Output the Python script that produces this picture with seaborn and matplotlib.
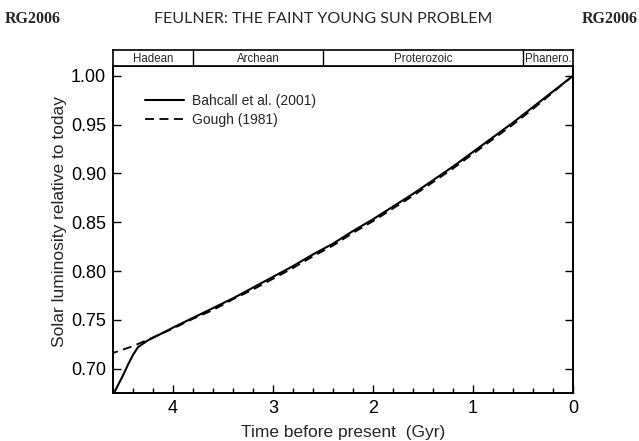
"""Faint young Sun: solar luminosity relative to today over Earth history."""

import matplotlib.pyplot as plt
import pandas as pd
import seaborn as sns
from matplotlib.ticker import FormatStrFormatter, MultipleLocator


# values
GOUGH_TIME = [0.0, 0.2, 0.4, 0.6, 0.8, 1.0, 1.2, 1.4, 1.6, 1.8, 2.0, 2.2,
              2.4, 2.6, 2.8, 3.0, 3.2, 3.4, 3.6, 3.8, 4.0, 4.2, 4.4, 4.6]
GOUGH_LUM = [1.000, 0.983, 0.966, 0.950, 0.935, 0.920, 0.905, 0.891, 0.877,
             0.864, 0.851, 0.839, 0.826, 0.815, 0.803, 0.792, 0.781, 0.771,
             0.760, 0.751, 0.741, 0.732, 0.723, 0.716]

BAHCALL_TIME = [0.0, 0.2, 0.4, 0.6, 0.8, 1.0, 1.2, 1.4, 1.6, 1.8, 2.0, 2.2,
                2.4, 2.6, 2.8, 3.0, 3.2, 3.4, 3.6, 3.8, 4.0, 4.2, 4.25, 4.3,
                4.35, 4.4, 4.45, 4.5, 4.55, 4.58]
BAHCALL_LUM = [1.000, 0.984, 0.968, 0.952, 0.937, 0.922, 0.907, 0.893, 0.879,
               0.866, 0.853, 0.841, 0.828, 0.817, 0.805, 0.794, 0.783, 0.772,
               0.762, 0.752, 0.742, 0.7315, 0.729, 0.7255, 0.722, 0.714,
               0.704, 0.693, 0.683, 0.677]

EON_NAMES = ["Hadean", "Archean", "Proterozoic", "Phanero."]
EON_BOUNDS = [4.6, 3.8, 2.5, 0.5, 0.0]

X_TICKS = [4, 3, 2, 1, 0]
Y_TICKS = [0.70, 0.75, 0.80, 0.85, 0.90, 0.95, 1.00]


def main() -> None:
    sns.set_style("ticks")
    plt.rcParams["font.family"] = ["Liberation Sans", "DejaVu Sans"]

    fig = plt.figure(figsize=(6.39, 4.41), dpi=100)
    ax = fig.add_axes([0.1768, 0.1088, 0.7199, 0.7415])

    bahcall_df = pd.DataFrame({"time": BAHCALL_TIME, "lum": BAHCALL_LUM})
    gough_df = pd.DataFrame({"time": GOUGH_TIME, "lum": GOUGH_LUM})

    sns.lineplot(data=bahcall_df, x="time", y="lum", ax=ax, color="black",
                 linewidth=1.5, estimator=None, label="Bahcall et al. (2001)")
    sns.lineplot(data=gough_df, x="time", y="lum", ax=ax, color="black",
                 linewidth=1.3, estimator=None, dashes=False,
                 linestyle=(0, (5, 3)), label="Gough (1981)")

    ax.set_xlim(4.6, 0)
    ax.set_ylim(0.675, 1.010)
    ax.set_xticks(X_TICKS)
    ax.set_yticks(Y_TICKS)
    ax.xaxis.set_minor_locator(MultipleLocator(0.2))
    ax.xaxis.set_major_formatter(FormatStrFormatter("%d"))
    ax.yaxis.set_major_formatter(FormatStrFormatter("%.2f"))
    ax.tick_params(which="both", direction="in", right=True, top=False,
                   width=1.0, colors="black")
    ax.tick_params(which="major", length=6, labelsize=13, pad=5)
    ax.tick_params(which="minor", length=3.5)
    for spine in ax.spines.values():
        spine.set_visible(True)
        spine.set_linewidth(1.4)
        spine.set_color("black")

    ax.set_xlabel("Time before present  (Gyr)", fontsize=12.5, labelpad=6)
    ax.set_ylabel("Solar luminosity relative to today", fontsize=12.5)
    ax.yaxis.set_label_coords(-0.10, 0.523)

    ax.legend(loc="upper left", bbox_to_anchor=(0.07, 0.915), frameon=False,
              fontsize=10, handlelength=2.8, handletextpad=0.6,
              labelspacing=0.35, borderpad=0, borderaxespad=0)

    band = fig.add_axes([0.1768, 0.8503, 0.7199, 0.0363])
    band.set_xlim(4.6, 0)
    band.set_ylim(0, 1)
    band.set_xticks([])
    band.set_yticks([])
    for spine in band.spines.values():
        spine.set_visible(True)
        spine.set_linewidth(1.2)
        spine.set_color("black")
    for bound in EON_BOUNDS[1:-1]:
        band.axvline(bound, color="black", linewidth=1.0)
    for name, left, right in zip(EON_NAMES, EON_BOUNDS[:-1], EON_BOUNDS[1:]):
        band.text((left + right) / 2, 0.45, name, ha="center", va="center",
                  fontsize=8.3)

    fig.text(0.008, 0.957, "RG2006", fontsize=11.5, fontweight="bold",
             family="Liberation Serif", ha="left", va="center")
    fig.text(0.998, 0.957, "RG2006", fontsize=11.5, fontweight="bold",
             family="Liberation Serif", ha="right", va="center")
    fig.text(0.505, 0.957, "FEULNER: THE FAINT YOUNG SUN PROBLEM",
             fontsize=11.5, family="Lato", ha="center", va="center")

    fig.savefig("out.png", dpi=100)
    plt.close(fig)


if __name__ == "__main__":
    main()
